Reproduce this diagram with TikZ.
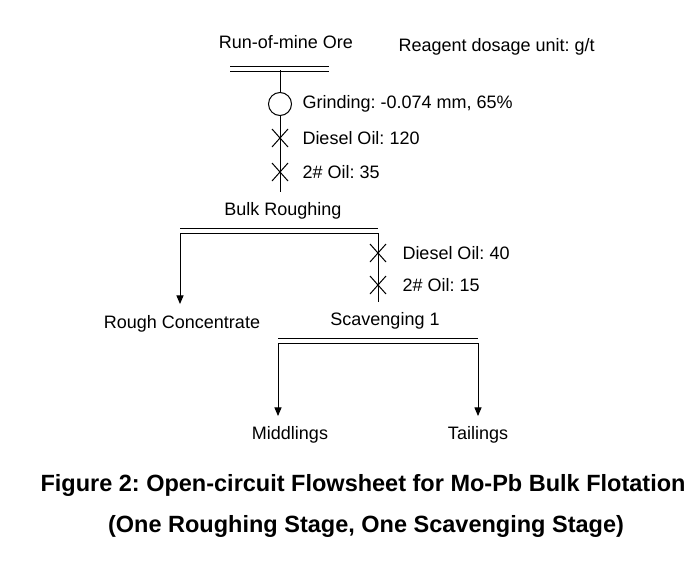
\documentclass[tikz,border=0pt]{standalone}
\usepackage{fontspec}
\setmainfont{Liberation Sans}
\usetikzlibrary{arrows}
\frenchspacing

\begin{document}
\begin{tikzpicture}[x=1pt, y=-1pt, >=triangle 45, line width=1pt,
	txt/.style={font=\fontsize{18}{21}\selectfont, inner sep=0pt},
	captxt/.style={font=\fontsize{23.5}{28}\selectfont\bfseries, inner sep=0pt},
	bar/.style={double, double distance=3.5pt, line width=1pt}]
	\useasboundingbox (0,0) rectangle (700,568);
	% Texts
	\node [txt] (ore) at (286,42) {Run-of-mine Ore};
	\node [txt, anchor=west] (unit) at (398,47) {Reagent dosage unit: g/t};
	\node [txt] (bulk) at (283,211) {Bulk Roughing};
	\node [txt] (rconc) at (182,324) {Rough Concentrate};
	\node [txt] (scav) at (385,321) {Scavenging 1};
	\node [txt] (mid) at (290,435) {Middlings};
	\node [txt] (tail) at (478,435) {Tailings};
	
	% Feed and grinding
	\coordinate (top) at (280,70);
	\draw [bar] (230,69) -- (329,69);
	\node [circle, draw, minimum size=23pt, inner sep=0pt] (grind) at (280,104) {};
	\draw (top) -- (grind.north);
	\draw (grind.south) -- (280,192);
	\node [txt, anchor=west] (g) at (302,104) {Grinding: -0.074 mm, 65\%};
	\foreach \y/\t in {138/Diesel Oil: 120, 172/2\# Oil: 35} {
		\draw (272,\y-9) -- (288,\y+9) (288,\y-9) -- (272,\y+9);
		\node [txt, anchor=west] at (302,\y) {\t};
	}
	
	% Roughing
	\draw [bar] (180,231) -- (378,231);
	\coordinate (rl) at (180,233);
	\coordinate (rr) at (378,233);
	\draw [->] (rl) -- (180,304);
	\draw (rr) -- (378,302);
	\foreach \y/\t in {253/Diesel Oil: 40, 285/2\# Oil: 15} {
		\draw (370,\y-9) -- (386,\y+9) (386,\y-9) -- (370,\y+9);
		\node [txt, anchor=west] at (402,\y) {\t};
	}
	
	% Scavenging
	\draw [bar] (278,341) -- (478,341);
	\draw [->] (278,343) -- (278,416);
	\draw [->] (478,343) -- (478,416);
	
	% Caption
	\node [captxt] (c1) at (363,485) {Figure 2: Open-circuit Flowsheet for Mo-Pb Bulk Flotation};
	\node [captxt] (c2) at (366,526) {(One Roughing Stage, One Scavenging Stage)};
\end{tikzpicture}
\end{document}
